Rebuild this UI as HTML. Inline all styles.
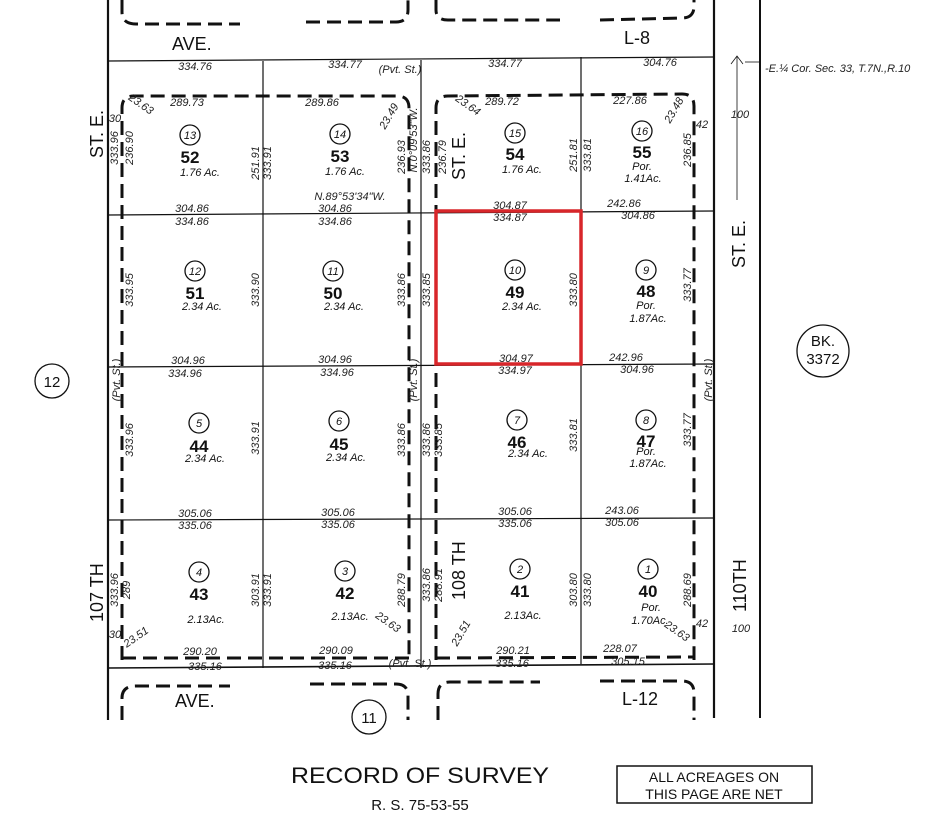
<!DOCTYPE html>
<html><head><meta charset="utf-8"><style>
html,body{margin:0;padding:0;background:#fff;}
svg{display:block;}
.d{font-family:"Liberation Sans",sans-serif;font-style:italic;font-size:11px;fill:#222;}
.n{font-family:"Liberation Sans",sans-serif;font-size:17px;fill:#111;text-anchor:middle;}
.c{font-family:"Liberation Sans",sans-serif;font-style:italic;font-size:11px;fill:#111;text-anchor:middle;}
.a{font-family:"Liberation Sans",sans-serif;font-style:italic;font-size:11px;fill:#111;text-anchor:middle;}
.L{font-family:"Liberation Sans",sans-serif;font-size:18px;fill:#111;}
</style></head><body>
<svg width="935" height="840" viewBox="0 0 935 840" xmlns="http://www.w3.org/2000/svg">
<rect width="935" height="840" fill="#fff"/>
<g stroke="#111" fill="none">
 <line x1="108" y1="0" x2="108" y2="720" stroke-width="2.2"/>
 <line x1="714" y1="0" x2="714" y2="718" stroke-width="2.2"/>
 <line x1="760" y1="0" x2="760" y2="718" stroke-width="2"/>
 <line x1="108" y1="61" x2="714" y2="57" stroke-width="1.2"/>
 <line x1="108" y1="215" x2="714" y2="211" stroke-width="1.2"/>
 <line x1="108" y1="367" x2="714" y2="364" stroke-width="1.2"/>
 <line x1="108" y1="520" x2="714" y2="518" stroke-width="1.2"/>
 <line x1="108" y1="668" x2="714" y2="664" stroke-width="1.6"/>
 <line x1="263" y1="61" x2="263" y2="668" stroke-width="1.2"/>
 <line x1="421" y1="60" x2="421" y2="668" stroke-width="1.2"/>
 <line x1="581" y1="57" x2="581" y2="664" stroke-width="1.2"/>
 <g stroke-width="3" stroke-dasharray="14,7">
  <path d="M122 660 L122 108 Q122 96 134 96 L397 96 Q409 96 409 108 L409 660"/>
  <path d="M122 658 L409 658"/>
  <path d="M436 660 L436 108 Q436 96 448 96 L682 94 Q694 94 694 106 L694 660"/>
  <path d="M436 658 L694 657"/>
  <path d="M122 0 L122 12 Q122 24 136 24 L240 24"/>
  <path d="M306 22 L396 22 Q408 22 408 10 L408 0"/>
  <path d="M436 0 L436 10 Q436 20 448 20 L560 20"/>
  <path d="M600 20 L682 18 Q694 18 694 6 L694 0"/>
  <path d="M122 720 L122 698 Q122 686 136 686 L230 686"/>
  <path d="M310 684 L396 684 Q408 684 408 696 L408 720"/>
  <path d="M438 720 L438 694 Q438 682 450 682 L540 682"/>
  <path d="M600 681 L682 681 Q694 681 694 693 L694 720"/>
 </g>
 <rect x="436" y="211" width="145" height="153" stroke="#d8262a" stroke-width="3.5"/>
 <g stroke-width="1.3">
  <circle cx="190" cy="135" r="10"/><circle cx="340" cy="134" r="10"/><circle cx="515" cy="133" r="10"/><circle cx="642" cy="131" r="10"/>
  <circle cx="195" cy="271" r="10"/><circle cx="333" cy="271" r="10"/><circle cx="515" cy="270" r="10"/><circle cx="646" cy="270" r="10"/>
  <circle cx="199" cy="423" r="10"/><circle cx="339" cy="421" r="10"/><circle cx="517" cy="420" r="10"/><circle cx="646" cy="420" r="10"/>
  <circle cx="199" cy="572" r="10"/><circle cx="345" cy="571" r="10"/><circle cx="520" cy="569" r="10"/><circle cx="648" cy="569" r="10"/>
  <circle cx="52" cy="381" r="17"/><circle cx="369" cy="717" r="17"/><circle cx="823" cy="351" r="26"/>
 </g>
 <rect x="617" y="766" width="195" height="37" stroke-width="1.5"/>
 <line x1="737" y1="56" x2="737" y2="200" stroke-width="0.8"/>
 <path d="M731 64 L737 56 L743 64" stroke-width="0.8"/>
 <line x1="745" y1="62" x2="760" y2="62" stroke-width="0.8"/>
</g>
<g class="c">
 <text x="190" y="139">13</text><text x="340" y="138">14</text><text x="515" y="137">15</text><text x="642" y="135">16</text>
 <text x="195" y="275">12</text><text x="333" y="275">11</text><text x="515" y="274">10</text><text x="646" y="274">9</text>
 <text x="199" y="427">5</text><text x="339" y="425">6</text><text x="517" y="424">7</text><text x="646" y="424">8</text>
 <text x="199" y="576">4</text><text x="345" y="575">3</text><text x="520" y="573">2</text><text x="648" y="573">1</text>
</g>
<g class="n" font-weight="600">
 <text x="190" y="163">52</text><text x="340" y="162">53</text><text x="515" y="160">54</text><text x="642" y="158">55</text>
 <text x="195" y="299">51</text><text x="333" y="299">50</text><text x="515" y="298">49</text><text x="646" y="297">48</text>
 <text x="199" y="452">44</text><text x="339" y="450">45</text><text x="517" y="448">46</text><text x="646" y="447">47</text>
 <text x="199" y="600">43</text><text x="345" y="599">42</text><text x="520" y="597">41</text><text x="648" y="597">40</text>
</g>
<g class="n">
 <text x="52" y="387" font-size="15">12</text><text x="369" y="723" font-size="15">11</text>
 <text x="823" y="346" font-size="15">BK.</text><text x="823" y="364" font-size="15">3372</text>
</g>
<g class="a">
 <text x="200" y="176">1.76 Ac.</text><text x="345" y="175">1.76 Ac.</text><text x="522" y="173">1.76 Ac.</text>
 <text x="642" y="170">Por.</text><text x="643" y="182">1.41Ac.</text>
 <text x="202" y="310">2.34 Ac.</text><text x="344" y="310">2.34 Ac.</text><text x="522" y="310">2.34 Ac.</text>
 <text x="646" y="309">Por.</text><text x="648" y="322">1.87Ac.</text>
 <text x="205" y="462">2.34 Ac.</text><text x="346" y="461">2.34 Ac.</text><text x="528" y="457">2.34 Ac.</text>
 <text x="646" y="455">Por.</text><text x="648" y="467">1.87Ac.</text>
 <text x="206" y="623">2.13Ac.</text><text x="350" y="620">2.13Ac.</text><text x="523" y="619">2.13Ac.</text>
 <text x="651" y="611">Por.</text><text x="650" y="624">1.70Ac.</text>
</g>
<g class="d" text-anchor="middle">
 <text x="195" y="70">334.76</text><text x="345" y="68">334.77</text><text x="505" y="67">334.77</text><text x="660" y="66">304.76</text>
 <text x="187" y="106">289.73</text><text x="322" y="106">289.86</text><text x="502" y="105">289.72</text><text x="630" y="104">227.86</text>
 <text x="192" y="212">304.86</text><text x="335" y="212">304.86</text><text x="510" y="209">304.87</text><text x="624" y="207">242.86</text>
 <text x="192" y="225">334.86</text><text x="335" y="225">334.86</text><text x="510" y="221">334.87</text><text x="638" y="219">304.86</text>
 <text x="350" y="200">N.89°53'34"W.</text>
 <text x="188" y="364">304.96</text><text x="335" y="363">304.96</text><text x="516" y="362">304.97</text><text x="626" y="361">242.96</text>
 <text x="185" y="377">334.96</text><text x="337" y="376">334.96</text><text x="515" y="374">334.97</text><text x="637" y="373">304.96</text>
 <text x="195" y="517">305.06</text><text x="338" y="516">305.06</text><text x="515" y="515">305.06</text><text x="622" y="514">243.06</text>
 <text x="195" y="529">335.06</text><text x="338" y="528">335.06</text><text x="515" y="527">335.06</text><text x="622" y="526">305.06</text>
 <text x="200" y="655">290.20</text><text x="336" y="654">290.09</text><text x="513" y="654">290.21</text><text x="620" y="652">228.07</text>
 <text x="205" y="670">335.16</text><text x="335" y="669">335.16</text><text x="512" y="667">335.16</text><text x="628" y="665">305.15</text>
 <text x="400" y="73">(Pvt. St.)</text><text x="410" y="667">(Pvt. St.)</text>
</g>
<g class="d" text-anchor="middle">
 <text transform="translate(118,148) rotate(-90)">333.96</text><text transform="translate(133,148) rotate(-90)">236.90</text>
 <text transform="translate(259,163) rotate(-90)">251.91</text><text transform="translate(271,163) rotate(-90)">333.91</text>
 <text transform="translate(405,157) rotate(-90)">236.93</text><text transform="translate(417,140) rotate(-90)">N.0°09'53"W.</text>
 <text transform="translate(430,157) rotate(-90)">333.86</text><text transform="translate(446,157) rotate(-90)">236.79</text>
 <text transform="translate(577,155) rotate(-90)">251.81</text><text transform="translate(591,155) rotate(-90)">333.81</text>
 <text transform="translate(691,150) rotate(-90)">236.85</text>
 <text transform="translate(133,290) rotate(-90)">333.95</text><text transform="translate(259,290) rotate(-90)">333.90</text>
 <text transform="translate(405,290) rotate(-90)">333.86</text><text transform="translate(430,290) rotate(-90)">333.85</text>
 <text transform="translate(577,290) rotate(-90)">333.80</text><text transform="translate(691,285) rotate(-90)">333.77</text>
 <text transform="translate(120,380) rotate(-90)">(Pvt. St.)</text><text transform="translate(417,380) rotate(-90)">(Pvt. St.)</text>
 <text transform="translate(712,380) rotate(-90)">(Pvt. St.)</text>
 <text transform="translate(133,440) rotate(-90)">333.96</text><text transform="translate(259,438) rotate(-90)">333.91</text>
 <text transform="translate(405,440) rotate(-90)">333.86</text><text transform="translate(430,440) rotate(-90)">333.86</text>
 <text transform="translate(442,440) rotate(-90)">333.85</text><text transform="translate(577,435) rotate(-90)">333.81</text>
 <text transform="translate(691,430) rotate(-90)">333.77</text>
 <text transform="translate(118,590) rotate(-90)">333.96</text><text transform="translate(130,590) rotate(-90)">289</text>
 <text transform="translate(259,590) rotate(-90)">303.91</text><text transform="translate(271,590) rotate(-90)">333.91</text>
 <text transform="translate(405,590) rotate(-90)">288.79</text>
 <text transform="translate(430,585) rotate(-90)">333.86</text><text transform="translate(442,585) rotate(-90)">288.91</text>
 <text transform="translate(577,590) rotate(-90)">303.80</text><text transform="translate(591,590) rotate(-90)">333.80</text>
 <text transform="translate(691,590) rotate(-90)">288.69</text>
 <text transform="translate(139,107) rotate(35)">23.63</text><text transform="translate(392,118) rotate(-60)">23.49</text>
 <text transform="translate(466,108) rotate(35)">23.64</text><text transform="translate(677,112) rotate(-60)">23.48</text>
 <text transform="translate(138,640) rotate(-35)">23.51</text><text transform="translate(386,625) rotate(35)">23.63</text>
 <text transform="translate(464,635) rotate(-60)">23.51</text><text transform="translate(675,634) rotate(35)">23.63</text>
 <text x="702" y="128">42</text><text x="702" y="627">42</text>
 <text x="740" y="118">100</text><text x="741" y="632">100</text>
 <text x="115" y="122">30</text><text x="115" y="638">30</text>
</g>
<text class="d" x="765" y="72" font-size="12">-E.¼ Cor. Sec. 33, T.7N.,R.10</text>
<text class="L" x="172" y="50">AVE.</text>
<text class="L" x="624" y="44">L-8</text>
<text class="L" x="175" y="707" font-size="16">AVE.</text>
<text class="L" x="622" y="705" font-size="16">L-12</text>
<text class="L" font-size="16" transform="translate(103,158) rotate(-90)">ST. E.</text>
<text class="L" font-size="16" transform="translate(465,180) rotate(-90)">ST. E.</text>
<text class="L" font-size="16" transform="translate(745,268) rotate(-90)">ST. E.</text>
<text class="L" font-size="16" transform="translate(103,622) rotate(-90)">107 TH</text>
<text class="L" font-size="16" transform="translate(465,600) rotate(-90)">108 TH</text>
<text class="L" font-size="16" transform="translate(746,612) rotate(-90)">110TH</text>
<text x="420" y="783" text-anchor="middle" font-family="Liberation Sans, sans-serif" font-size="22" fill="#111" textLength="258" lengthAdjust="spacingAndGlyphs">RECORD OF SURVEY</text>
<text x="420" y="810" text-anchor="middle" font-family="Liberation Sans, sans-serif" font-size="15" fill="#111">R. S. 75-53-55</text>
<text x="714" y="782" text-anchor="middle" font-family="Liberation Sans, sans-serif" font-size="14" fill="#111">ALL ACREAGES ON</text>
<text x="714" y="799" text-anchor="middle" font-family="Liberation Sans, sans-serif" font-size="14" fill="#111">THIS PAGE ARE NET</text>
</svg>
</body></html>
